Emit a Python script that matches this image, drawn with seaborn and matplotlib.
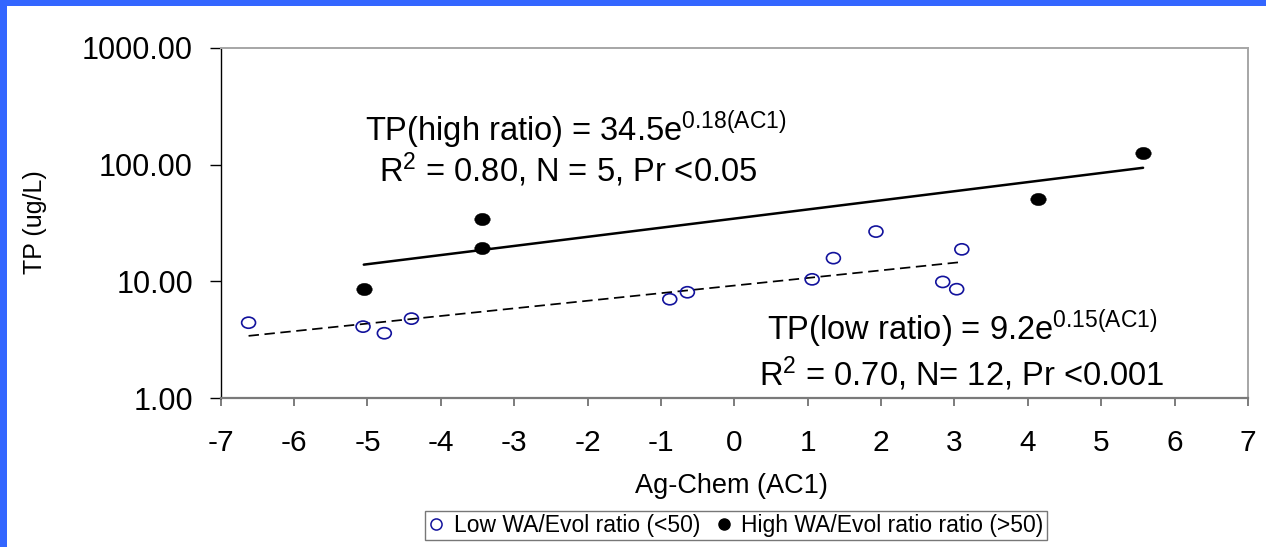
import numpy as np
import pandas as pd
import matplotlib
matplotlib.use("Agg")
import matplotlib.pyplot as plt
from matplotlib.path import Path
from matplotlib.markers import MarkerStyle
from matplotlib.transforms import Affine2D
from matplotlib.lines import Line2D
from matplotlib.patches import Rectangle
import seaborn as sns

# ---------------- data ----------------
low_ac1 = [-6.62, -5.06, -4.77, -4.40, -0.88, -0.64, 1.06, 1.35, 1.93, 2.84, 3.03, 3.10]
low_tp = [4.42, 4.09, 3.59, 4.79, 7.02, 8.06, 10.4, 15.8, 26.7, 9.88, 8.56, 18.8]

high_ac1 = [-5.05, -3.44, -3.44, 4.14, 5.57]
high_tp = [8.56, 34.3, 19.2, 51.2, 125.6]

# exponential fits stated on the chart: TP = a * exp(b * AC1)
high_fit = [34.5, 0.18]
low_fit = [9.2, 0.15]

x_ticks = [-7, -6, -5, -4, -3, -2, -1, 0, 1, 2, 3, 4, 5, 6, 7]
y_ticks = [1, 10, 100, 1000]
y_tick_labels = ["1.00", "10.00", "100.00", "1000.00"]

series_labels = ["Low WA/Evol ratio (<50)", "High WA/Evol ratio ratio (>50)"]
high_eq = r"TP(high ratio) = 34.5e$^{\mathregular{0.18(AC1)}}$"
high_stats = r"R$^{\mathregular{2}}$ = 0.80, N = 5, Pr <0.05"
low_eq = r"TP(low ratio) = 9.2e$^{\mathregular{0.15(AC1)}}$"
low_stats = r"R$^{\mathregular{2}}$ = 0.70, N= 12, Pr <0.001"
x_label = "Ag-Chem (AC1)"
y_label = "TP (ug/L)"

# ---------------- style ----------------
sns.set_style("ticks")
plt.rcParams["font.family"] = ["Liberation Sans", "DejaVu Sans"]
plt.rcParams["mathtext.fontset"] = "custom"
plt.rcParams["mathtext.rm"] = "Liberation Sans"
plt.rcParams["mathtext.it"] = "Liberation Sans:italic"
plt.rcParams["mathtext.bf"] = "Liberation Sans:bold"
plt.rcParams["text.color"] = "black"
plt.rcParams["axes.labelcolor"] = "black"
plt.rcParams["xtick.labelcolor"] = "black"
plt.rcParams["ytick.labelcolor"] = "black"

W, H = 1266, 547
fig = plt.figure(figsize=(W / 100, H / 100), dpi=100)
fig.patch.set_facecolor("white")

# blue frame strips (left and top)
fig.patches.append(Rectangle((0, 0), 7.5 / W, 1, transform=fig.transFigure,
                             facecolor="#3366ff", edgecolor="none", zorder=0))
fig.patches.append(Rectangle((0, 1 - 6 / H), 1, 6 / H, transform=fig.transFigure,
                             facecolor="#3366ff", edgecolor="none", zorder=0))

ax_l, ax_r, ax_t, ax_b = 220.7, 1248, 48, 398
ax = fig.add_axes([ax_l / W, (H - ax_b) / H, (ax_r - ax_l) / W, (ax_b - ax_t) / H])

low_df = pd.DataFrame({"AC1": low_ac1, "TP": low_tp})
high_df = pd.DataFrame({"AC1": high_ac1, "TP": high_tp})

# fit lines (straight on log axis -> endpoints over each group's range)
hx = np.array([min(high_ac1), max(high_ac1)])
lx = np.array([min(low_ac1), max(low_ac1)])
high_line = pd.DataFrame({"AC1": hx, "TP": high_fit[0] * np.exp(high_fit[1] * hx)})
low_line = pd.DataFrame({"AC1": lx, "TP": low_fit[0] * np.exp(low_fit[1] * lx)})

sns.lineplot(data=high_line, x="AC1", y="TP", ax=ax, color="black", linewidth=1.8,
             legend=False, zorder=2)
sns.lineplot(data=low_line, x="AC1", y="TP", ax=ax, color="black", linewidth=1.25,
             legend=False, zorder=2)
ax.lines[-1].set_dashes([6, 3.2])

# slightly wide ellipse marker, as in the reference
ell = Path.unit_circle().transformed(Affine2D().scale(1.0, 0.8))
ell_marker = MarkerStyle(ell)

sns.scatterplot(data=low_df, x="AC1", y="TP", ax=ax, marker=ell_marker, s=100,
                facecolor="none", edgecolor="#12129c", linewidth=1.2, zorder=3,
                legend=False)
sns.scatterplot(data=high_df, x="AC1", y="TP", ax=ax, marker=ell_marker, s=125,
                facecolor="black", edgecolor="black", linewidth=0.3, zorder=3,
                legend=False)

ax.set_yscale("log")
ax.set_xlim(-7, 7)
ax.set_ylim(1, 1000)
ax.set_xticks(x_ticks)
ax.set_xticklabels([str(t) for t in x_ticks])
ax.set_yticks(y_ticks)
ax.set_yticklabels(y_tick_labels)
ax.yaxis.set_minor_locator(matplotlib.ticker.NullLocator())
ax.xaxis.set_minor_locator(matplotlib.ticker.NullLocator())

ax.tick_params(axis="y", which="major", direction="out", length=8, width=1.0,
               color="black", labelsize=22, pad=12, labelcolor="black")
ax.tick_params(axis="x", which="major", direction="out", length=6, width=1.2,
               color="#666666", labelsize=21.5, pad=16, labelcolor="black")

for side in ["top", "right"]:
    ax.spines[side].set_visible(True)
    ax.spines[side].set_color("#a6a6a6")
    ax.spines[side].set_linewidth(1.4)
ax.spines["left"].set_color("black")
ax.spines["left"].set_linewidth(1.0)
ax.spines["bottom"].set_color("#7a7a7a")
ax.spines["bottom"].set_linewidth(1.6)

ax.set_xlabel(x_label, fontsize=19.5, color="black")
ax.set_ylabel(y_label, fontsize=18, color="black")
ax.xaxis.set_label_coords(0.497, -0.215)
ax.yaxis.set_label_coords(-0.169, 0.503)

# annotations
fig.text(576 / W, 1 - 141 / H, high_eq, ha="center", va="baseline", fontsize=23.5,
         color="black")
fig.text(568 / W, 1 - 182 / H, high_stats, ha="center", va="baseline", fontsize=23.5,
         color="black")
fig.text(962 / W, 1 - 340 / H, low_eq, ha="center", va="baseline", fontsize=23.5,
         color="black")
fig.text(962 / W, 1 - 386 / H, low_stats, ha="center", va="baseline", fontsize=23.5,
         color="black")

# legend
handles = [
    Line2D([], [], linestyle="none", marker="o", markersize=8, markerfacecolor="none",
           markeredgecolor="#12129c", markeredgewidth=1.1),
    Line2D([], [], linestyle="none", marker="o", markersize=8, markerfacecolor="black",
           markeredgecolor="black"),
]
leg = fig.legend(handles, series_labels, loc="center", ncol=2,
                 bbox_to_anchor=(736 / W, 1 - 525.5 / H), fontsize=16.5,
                 frameon=True, fancybox=False, edgecolor="#555555",
                 handlelength=0.7, handletextpad=0.4, columnspacing=0.7,
                 borderpad=0.15, borderaxespad=0, labelcolor="black")
leg.get_frame().set_linewidth(1.0)

fig.savefig("out.png", dpi=100, facecolor="white")
